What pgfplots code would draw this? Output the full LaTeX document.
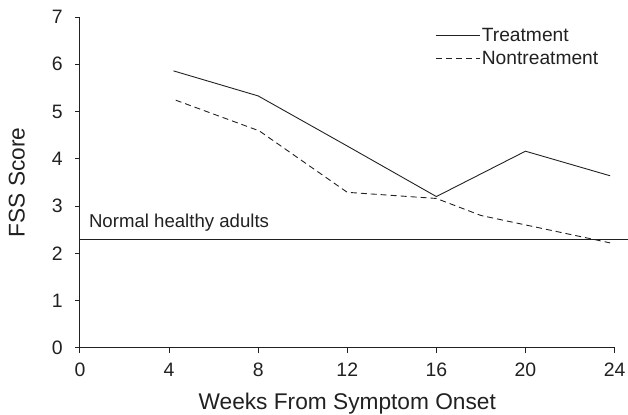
\documentclass[border=0pt]{standalone}
\usepackage{fontspec}
\setmainfont{Liberation Sans}
\usepackage{pgfplots}
\pgfplotsset{compat=1.18}
\definecolor{ink}{gray}{0.13}
\begin{document}
\begin{tikzpicture}
\begin{axis}[
  scale only axis,
  width=535bp, height=331bp,
  xmin=0, xmax=24, ymin=0, ymax=7,
  axis lines*=left,
  clip=false,
  axis line style={ink, line width=1.1pt},
  tick style={ink, line width=1pt},
  tick align=outside,
  major tick length=5bp,
  xtick={0,4,8,12,16,20,24},
  ytick={0,1,2,3,4,5,6,7},
  /pgf/number format/assume math mode=true,
  ticklabel style={font=\fontsize{19.5}{21}\selectfont, text=ink, inner sep=0pt},
  xticklabel style={yshift=-10bp},
  yticklabel style={xshift=-12bp},
  xlabel={Weeks From Symptom Onset},
  ylabel={FSS Score},
  label style={font=\fontsize{22.8}{26}\selectfont, text=ink, inner sep=0pt},
  xlabel style={at={(axis description cs:0.5,-0.1873)}, anchor=base},
  ylabel style={at={(axis description cs:-0.1028,0.5)}, anchor=south},
  legend cell align=left,
  legend style={draw=none, fill=none, at={(0.66,0.98)}, anchor=north west,
    font=\fontsize{19.3}{21}\selectfont, text=ink, row sep=5bp,
    nodes={inner xsep=1bp, inner ysep=2bp}},
  legend image code/.code={\draw[#1] (0bp,0bp) -- (44bp,0bp);},
]
\addplot[ink, line width=0.9pt] coordinates {
  (4.2,5.86) (8,5.33) (12,4.27) (16,3.2) (20,4.16) (23.8,3.64)
};
\addlegendentry{Treatment}
\addplot[ink, line width=0.9pt, dash pattern=on 6bp off 4bp] coordinates {
  (4.3,5.24) (8.05,4.59) (12,3.29) (16,3.16) (18,2.8) (20,2.6) (23.8,2.22)
};
\addlegendentry{Nontreatment}
\addplot[ink, line width=1pt, forget plot] coordinates {(0,2.3) (24.58,2.3)};
\node[anchor=south west, font=\fontsize{18.7}{21}\selectfont, text=ink, inner sep=0pt]
  at (axis cs:0.4,2.47) {Normal healthy adults};
\path (rel axis cs:-0.1495,-0.1964) rectangle (rel axis cs:1.0243,1.0514);
\end{axis}
\end{tikzpicture}
\end{document}
